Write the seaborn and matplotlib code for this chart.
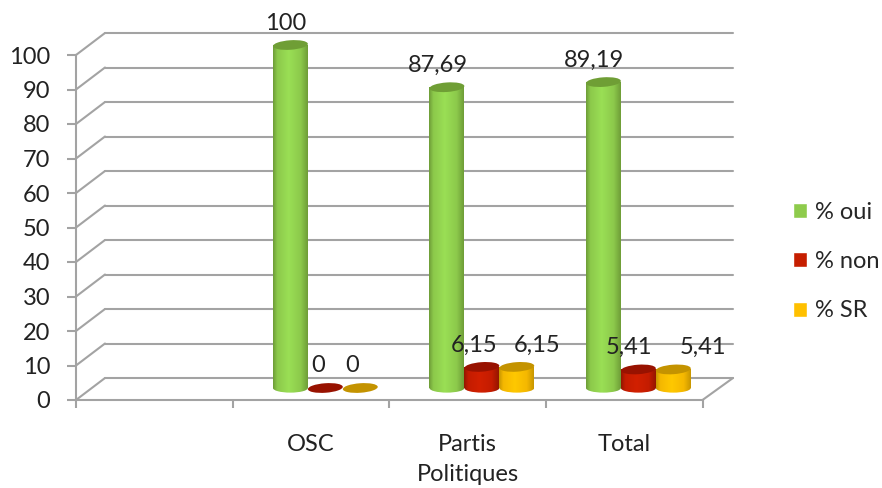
import matplotlib
matplotlib.use("Agg")
import matplotlib.pyplot as plt
import numpy as np
import pandas as pd
import seaborn as sns
from matplotlib.colors import to_rgb
from matplotlib.patches import ConnectionPatch, Ellipse, Rectangle
from matplotlib.transforms import IdentityTransform

CATEGORIES = ["", "OSC", "Partis\nPolitiques", "Total"]
ROWS = ["OSC", "Partis\nPolitiques", "Total"]
SERIES = ["% oui", "% non", "% SR"]
OUI = [100, 87.69, 89.19]
NON = [0, 6.15, 5.41]
SR = [0, 6.15, 5.41]
Y_TICKS = [0, 10, 20, 30, 40, 50, 60, 70, 80, 90, 100]

PALETTE = {"% oui": "#8ecb4c", "% non": "#c61e00", "% SR": "#ffc000"}
# edge, mid, light, top colour of the cylinders
SHADES = {
    "% oui": ("#6f9e38", "#8cc94b", "#9adf55", "#6f9e35"),
    "% non": ("#951600", "#c41c00", "#d22000", "#981200"),
    "% SR": ("#c99700", "#f5b800", "#ffc800", "#c49300"),
}
# label shift from the bar centre, in pixels
LABEL_DX = {"% oui": [-5, -9, -9], "% non": [-7, -8, -9], "% SR": [-8, 20, 30]}

W, H = 882, 488
GREY = "#a3a3a3"
FONT_SIZE = 17


def box(left, right, bottom, top):
    return [left / W, 1 - bottom / H, (right - left) / W, (bottom - top) / H]


def gradient(series):
    edge, mid, light, _ = SHADES[series]
    stops = [0, 0.12, 0.45, 0.8, 1]
    cols = np.array([to_rgb(c) for c in (edge, mid, light, mid, edge)])
    t = np.linspace(0, 1, 64)
    return np.stack([np.interp(t, stops, cols[:, i]) for i in range(3)], axis=1)[None, :, :]


def draw_cylinder(ax, patch, series, level):
    x0, w, h = patch.get_x(), patch.get_width(), patch.get_height()
    cx = x0 + w / 2
    px_w = abs(ax.transData.transform((x0 + w, 0))[0] - ax.transData.transform((x0, 0))[0])
    patch.set_visible(False)
    if h > 0:
        img = gradient(series)
        extent = (x0, x0 + w, -2, h)
        body = ax.imshow(img, extent=extent, aspect="auto", zorder=3 + level)
        body.set_clip_path(Rectangle((x0, 0), w, h, transform=ax.transData))
        foot = ax.imshow(img, extent=extent, aspect="auto", zorder=3 + level)
        foot.set_clip_path(Ellipse((cx, 0), w, 2.7, transform=ax.transData))
        foot.set_clip_box(ax.figure.bbox)
    px = ax.transData.transform((cx, h))
    top = Ellipse(px, px_w, 9.5, angle=4, transform=IdentityTransform(),
                  facecolor=SHADES[series][3], edgecolor="none", zorder=3.5 + level)
    ax.add_artist(top)
    top.set_clip_on(False)


def main():
    sns.set_theme(style="white", font="Lato")
    long_df = pd.DataFrame({"zone": ROWS, "% oui": OUI, "% non": NON, "% SR": SR}).melt(
        id_vars="zone", var_name="serie", value_name="valeur"
    )

    fig = plt.figure(figsize=(W / 100, H / 100), dpi=100)
    ax_back = fig.add_axes(box(105, 733, 378, 33))
    ax_front = fig.add_axes(box(76, 702.5, 400, 55))
    ax_bars = fig.add_axes(box(90.6, 716.6, 388, 45))

    # back wall
    ax_back.set_ylim(0, 100)
    ax_back.set_xlim(0, 1)
    ax_back.set_yticks(Y_TICKS)
    ax_back.set_xticks([])
    ax_back.tick_params(left=False, labelleft=False)
    ax_back.grid(axis="y", color=GREY, linewidth=1.5)
    for line in ax_back.get_ygridlines():
        line.set_clip_on(False)
    sns.despine(ax=ax_back, left=True, bottom=True)

    # front axis with tick labels
    ax_front.patch.set_alpha(0)
    ax_front.set_ylim(0, 100)
    ax_front.set_xlim(-0.5, 3.5)
    ax_front.set_yticks(Y_TICKS)
    ax_front.set_xticks(range(len(CATEGORIES)), CATEGORIES, linespacing=1.52)
    ax_front.set_xticks(np.arange(-0.5, 4), minor=True)
    ax_front.tick_params(axis="y", left=True, length=6.5, width=1.5, color=GREY,
                         pad=12, labelsize=FONT_SIZE, labelcolor="#222222")
    ax_front.tick_params(axis="x", which="major", length=0, pad=24.5, labelsize=FONT_SIZE, labelcolor="#222222")
    ax_front.tick_params(axis="x", which="minor", bottom=True, length=6, width=1.5, color=GREY)
    sns.despine(ax=ax_front)
    for side in ("left", "bottom"):
        ax_front.spines[side].set_color(GREY)
        ax_front.spines[side].set_linewidth(1.5)

    # side wall and floor diagonals
    for v in Y_TICKS:
        ax_front.add_artist(ConnectionPatch((-0.5, v), (0, v), "data", "data", axesA=ax_front,
                                            axesB=ax_back, color=GREY, linewidth=1.5))
    ax_front.add_artist(ConnectionPatch((3.5, 0), (1, 0), "data", "data", axesA=ax_front,
                                        axesB=ax_back, color=GREY, linewidth=1.5))

    # bars
    ax_bars.patch.set_alpha(0)
    sns.barplot(data=long_df, x="zone", y="valeur", hue="serie", order=CATEGORIES,
                hue_order=SERIES, palette=PALETTE, width=0.67, gap=0, saturation=1, ax=ax_bars)
    ax_bars.set_xlim(-0.5, 3.5)
    ax_bars.set_ylim(0, 100)
    ax_bars.axis("off")
    fig.canvas.draw()

    for i, (container, series) in enumerate(zip(ax_bars.containers, SERIES)):
        for j, patch in enumerate(container.patches):
            draw_cylinder(ax_bars, patch, series, i)
            value = patch.get_height()
            text = f"{value:g}".replace(".", ",")
            ax_bars.annotate(text, (patch.get_x() + patch.get_width() / 2, value),
                             xytext=(LABEL_DX[series][j] * 0.72, 22 * 0.72),
                             textcoords="offset points", ha="center", va="center",
                             fontsize=FONT_SIZE, color="#222222", zorder=20, annotation_clip=False)
    ax_bars.set_xlim(-0.5, 3.5)
    ax_bars.set_ylim(0, 100)

    sns.move_legend(ax_bars, "center left", bbox_to_anchor=(793 / W, 1 - 261.5 / H),
                    bbox_transform=fig.transFigure, title=None, frameon=False,
                    fontsize=FONT_SIZE, handlelength=0.6, handleheight=0.6,
                    labelspacing=1.2, handletextpad=0.34, borderpad=0, borderaxespad=0)

    fig.savefig("out.png", dpi=100)
    plt.close(fig)


if __name__ == "__main__":
    main()
